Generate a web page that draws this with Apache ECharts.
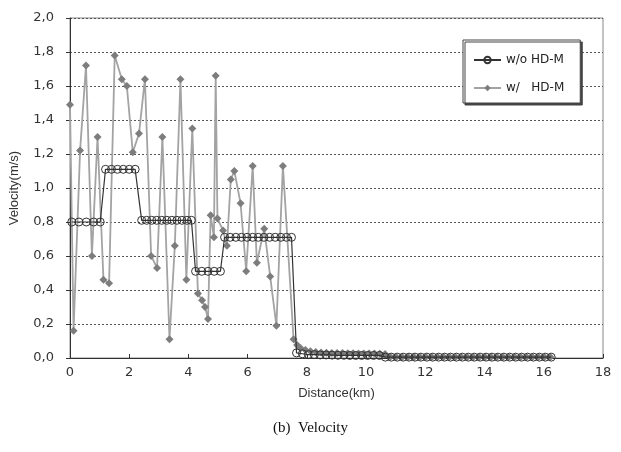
<!DOCTYPE html>
<html>
<head>
<meta charset="utf-8">
<script src="https://cdn.jsdelivr.net/npm/echarts@6/dist/echarts.min.js"></script>
<style>
  html, body { margin: 0; padding: 0; background: #fff; }
  #chart { width: 621px; height: 452px; }
</style>
</head>
<body>
<div id="chart"></div>
<script>
// Flow velocity along the channel, without and with HD-M

const seriesNames = ['w/o HD-M', 'w/   HD-M'];
const yTicks = [0, 0.2, 0.4, 0.6, 0.8, 1.0, 1.2, 1.4, 1.6, 1.8, 2.0];
const xTicks = [0, 2, 4, 6, 8, 10, 12, 14, 16, 18];

// Without HD-M (km, m/s)
const distWithout = [
  0.06, 0.30, 0.55, 0.80, 1.02,
  1.20, 1.40, 1.60, 1.80, 2.00, 2.20,
  2.42, 2.59, 2.76, 2.93, 3.10, 3.27, 3.44, 3.61, 3.78, 3.95, 4.10,
  4.24, 4.45, 4.66, 4.87, 5.08,
  5.22, 5.41, 5.60, 5.79, 5.98, 6.17, 6.36, 6.55, 6.74, 6.93, 7.12, 7.31, 7.48,
  7.65, 7.85, 8.05, 8.25, 8.45, 8.65, 8.85, 9.05, 9.25, 9.45, 9.65, 9.85, 10.05, 10.25, 10.45,
  10.65, 10.85, 11.05, 11.25, 11.45, 11.65, 11.85, 12.05, 12.25, 12.45, 12.65, 12.85,
  13.05, 13.25, 13.45, 13.65, 13.85, 14.05, 14.25, 14.45, 14.65, 14.85, 15.05, 15.25,
  15.45, 15.65, 15.85, 16.05, 16.25
];
const velWithout = [
  0.80, 0.80, 0.80, 0.80, 0.80,
  1.11, 1.11, 1.11, 1.11, 1.11, 1.11,
  0.81, 0.81, 0.81, 0.81, 0.81, 0.81, 0.81, 0.81, 0.81, 0.81, 0.81,
  0.51, 0.51, 0.51, 0.51, 0.51,
  0.71, 0.71, 0.71, 0.71, 0.71, 0.71, 0.71, 0.71, 0.71, 0.71, 0.71, 0.71, 0.71,
  0.030, 0.025, 0.020, 0.020, 0.018, 0.018, 0.017, 0.016, 0.016, 0.015, 0.015, 0.015, 0.015, 0.015, 0.015,
  0.005, 0.005, 0.005, 0.005, 0.005, 0.005, 0.005, 0.005, 0.005, 0.005, 0.005, 0.005,
  0.005, 0.005, 0.005, 0.005, 0.005, 0.005, 0.005, 0.005, 0.005, 0.005, 0.005, 0.005,
  0.005, 0.005, 0.005, 0.005, 0.005
];

// With HD-M (km, m/s)
const distWith = [
  0, 0.12, 0.34, 0.54, 0.74, 0.93, 1.13, 1.32, 1.51, 1.75, 1.92, 2.12, 2.33, 2.53,
  2.74, 2.94, 3.12, 3.36, 3.54, 3.73, 3.93, 4.13, 4.32, 4.46, 4.56, 4.66, 4.75,
  4.86, 4.92, 4.98, 5.17, 5.30, 5.43, 5.55, 5.76, 5.95, 6.17, 6.31, 6.56, 6.76,
  6.97, 7.19, 7.55,
  7.67, 7.79, 7.95, 8.12, 8.30, 8.48, 8.66, 8.84, 9.02, 9.20, 9.38, 9.56, 9.74,
  9.92, 10.10, 10.28, 10.46, 10.64,
  10.82, 11.02, 11.22, 11.42, 11.62, 11.82, 12.02, 12.22, 12.42, 12.62, 12.82,
  13.02, 13.22, 13.42, 13.62, 13.82, 14.02, 14.22, 14.42, 14.62, 14.82, 15.02,
  15.22, 15.42, 15.62, 15.82, 16.02, 16.22
];
const velWith = [
  1.49, 0.16, 1.22, 1.72, 0.60, 1.30, 0.46, 0.44, 1.78, 1.64, 1.60, 1.21, 1.32, 1.64,
  0.60, 0.53, 1.30, 0.11, 0.66, 1.64, 0.46, 1.35, 0.38, 0.34, 0.30, 0.23, 0.84,
  0.71, 1.66, 0.82, 0.75, 0.66, 1.05, 1.10, 0.91, 0.51, 1.13, 0.56, 0.76, 0.48,
  0.19, 1.13, 0.11,
  0.076, 0.057, 0.047, 0.040, 0.035, 0.033, 0.031, 0.030, 0.030, 0.029, 0.028, 0.028, 0.027,
  0.027, 0.026, 0.026, 0.025, 0.024,
  0.007, 0.006, 0.006, 0.006, 0.006, 0.006, 0.006, 0.006, 0.006, 0.006, 0.006,
  0.006, 0.006, 0.006, 0.006, 0.006, 0.006, 0.006, 0.006, 0.006, 0.006, 0.006,
  0.006, 0.006, 0.006, 0.006, 0.006, 0.006
];

const pairs = (xs, ys) => xs.map((x, i) => [x, ys[i]]);

const chart = echarts.init(document.getElementById('chart'), null, { renderer: 'canvas' });
const labelFont = '"Liberation Sans", Arial, sans-serif';
const tickFont = '"DejaVu Sans", "Liberation Sans", sans-serif';

chart.setOption({
  animation: false,
  backgroundColor: '#fff',
  grid: {
    left: 69, right: 18, top: 18, bottom: 94,
    show: true, borderColor: '#888', borderWidth: 1, backgroundColor: '#fff'
  },
  legend: {
    orient: 'vertical',
    left: 463, top: 40,
    padding: [14, 16, 9, 10],
    itemGap: 16,
    itemWidth: 27, itemHeight: 8,
    backgroundColor: '#fff',
    borderColor: '#444', borderWidth: 1,
    shadowColor: '#444', shadowBlur: 0, shadowOffsetX: 2, shadowOffsetY: 2,
    textStyle: { fontFamily: tickFont, fontSize: 12, color: '#222' },
    data: seriesNames
  },
  xAxis: {
    type: 'value',
    min: xTicks[0], max: xTicks[xTicks.length - 1], interval: 2,
    name: 'Distance(km)', nameLocation: 'middle', nameGap: 29,
    nameTextStyle: { fontFamily: labelFont, fontSize: 13, color: '#333' },
    axisLine: { show: true, lineStyle: { color: '#333', width: 1 } },
    axisTick: { show: true, inside: true, length: 4, lineStyle: { color: '#333' } },
    axisLabel: { fontFamily: tickFont, fontSize: 13, color: '#333', margin: 8 },
    splitLine: { show: false }
  },
  yAxis: {
    type: 'value',
    min: yTicks[0], max: yTicks[yTicks.length - 1], interval: 0.2,
    name: 'Velocity(m/s)', nameLocation: 'middle', nameGap: 49, nameRotate: 90,
    nameTextStyle: { fontFamily: labelFont, fontSize: 13, color: '#333' },
    axisLine: { show: true, lineStyle: { color: '#333', width: 1 } },
    axisTick: { show: true, length: 4, lineStyle: { color: '#333' } },
    axisLabel: {
      fontFamily: tickFont, fontSize: 13, color: '#333', margin: 16,
      formatter: v => v.toFixed(1).replace('.', ',')
    },
    splitLine: { show: true, lineStyle: { color: '#555', type: [2, 2], width: 1 } }
  },
  graphic: [{
    type: 'text',
    left: 'center', top: 421,
    style: {
      text: '(b)  Velocity',
      font: '15px "Liberation Serif", "Times New Roman", serif',
      fill: '#111'
    }
  }],
  series: [
    {
      name: seriesNames[0],
      type: 'line',
      data: pairs(distWithout, velWithout),
      symbol: 'circle', symbolSize: 8,
      showAllSymbol: true,
      lineStyle: { color: '#333', width: 1.2 },
      itemStyle: { color: 'rgba(255,255,255,0)', borderColor: '#333', borderWidth: 1 },
      z: 3
    },
    {
      name: seriesNames[1],
      type: 'line',
      data: pairs(distWith, velWith),
      symbol: 'diamond', symbolSize: 8,
      showAllSymbol: true,
      lineStyle: { color: '#a3a3a3', width: 1.8 },
      itemStyle: { color: '#7d7d7d' },
      z: 2
    }
  ]
});
</script>
</body>
</html>
